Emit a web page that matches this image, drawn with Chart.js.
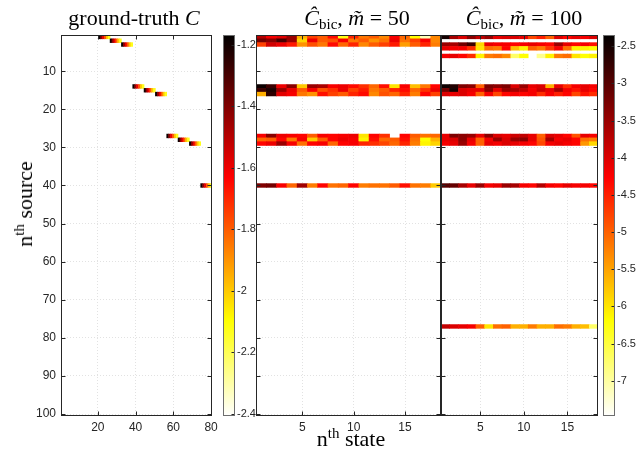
<!DOCTYPE html>
<html>
<head>
<meta charset="utf-8">
<script src="https://cdn.jsdelivr.net/npm/chart.js@4.4.1/dist/chart.umd.min.js"></script>
<style>
  html, body { margin: 0; padding: 0; background: #fff; }
  #fig { position: relative; width: 636px; height: 453px; overflow: hidden; background: #fff; }
  #fig canvas { position: absolute; top: 0; }
  .tx { position: absolute; font-family: "Liberation Serif", "Times New Roman", serif; color: #000;
        white-space: nowrap; line-height: 0; transform: translateX(-50%); }
  .tx i { font-style: italic; }
  .sup { font-size: 0.68em; position: relative; top: -0.55em; }
  .sub { font-size: 0.68em; position: relative; top: 0.3em; }
  #ylab { line-height: 22px; transform: translate(-50%, -50%) rotate(-90deg); }
</style>
</head>
<body>
<div id="fig">
  <canvas id="gt" width="224" height="453" style="left:0px"></canvas>
  <canvas id="bic50" width="205" height="453" style="left:246px"></canvas>
  <canvas id="bic100" width="177" height="453" style="left:431px"></canvas>
  <canvas id="cb1" width="50" height="453" style="left:213px"></canvas>
  <canvas id="cb3" width="43" height="453" style="left:593px"></canvas>

  <div class="tx" style="left:134px; top:18px; font-size:22px;">ground-truth <i>C</i></div>
  <div class="tx" style="left:357px; top:18px; font-size:22px;"><i>Ĉ</i><span class="sub">bic</span>, <i>m̃</i> = 50</div>
  <div class="tx" style="left:524px; top:18px; font-size:22px;"><i>Ĉ</i><span class="sub">bic</span>, <i>m̃</i> = 100</div>
  <div class="tx" style="left:351px; top:439px; font-size:22px;">n<span class="sup">th</span> state</div>
  <div class="tx" id="ylab" style="left:26px; top:204px; font-size:22px;">n<span class="sup">th</span> source</div>
</div>

<script>
// ---- data -------------------------------------------------------------
const N_SOURCES = 100;
const N_GT_STATES = 80;
const N_BIC_STATES = 18;

const SOURCE_TICKS = [10, 20, 30, 40, 50, 60, 70, 80, 90, 100];
const GT_STATE_TICKS = [20, 40, 60, 80];
const BIC_STATE_TICKS = [5, 10, 15];

// ground-truth coefficients: each active source owns six consecutive states
const GT_ROWS = [1, 2, 3, 14, 15, 16, 27, 28, 29, 40];
const GT_FIRST_STATE = [21, 27, 33, 39, 45, 51, 57, 63, 69, 75];
const GT_VALUES = [
  [-1.19, -1.43, -1.60, -1.80, -1.99, -2.13],
  [-1.19, -1.43, -1.60, -1.80, -1.99, -2.13],
  [-1.19, -1.43, -1.60, -1.80, -1.99, -2.13],
  [-1.19, -1.43, -1.60, -1.80, -1.99, -2.13],
  [-1.19, -1.43, -1.60, -1.80, -1.99, -2.13],
  [-1.19, -1.43, -1.60, -1.80, -1.99, -2.13],
  [-1.19, -1.43, -1.60, -1.80, -1.99, -2.13],
  [-1.19, -1.43, -1.60, -1.80, -1.99, -2.13],
  [-1.19, -1.43, -1.60, -1.80, -1.99, -2.13],
  [-1.19, -1.43, -1.60, -1.80, -1.99, -2.13]
];

// BIC estimate, m = 50 (null = not selected)
const BIC50_ROWS = [1, 2, 3, 14, 15, 16, 27, 28, 29, 40];
const BIC50_VALUES = [
  [-1.50, -1.62, -1.58, -1.45, -1.95, -1.75, -1.80, -1.65, -2.12, -1.70, -1.85, -1.80, -1.88, -1.62, -1.82, -2.10, -2.32, -1.88],
  [-1.38, -1.42, -1.30, -1.45, -2.02, -1.60, -1.80, -1.78, -1.62, -1.85, -1.80, -1.90, -1.84, -1.60, -1.84, -1.75, -1.62, -1.88],
  [-1.75, -1.55, -1.60, -1.68, -1.90, -1.78, -1.85, -1.65, -1.82, -1.70, -1.88, -1.80, -1.75, -1.68, -1.92, -1.80, -1.70, -1.86],
  [-1.19, -1.28, -1.60, -1.42, -2.00, -1.45, -1.48, -1.62, -1.60, -1.65, -1.72, -1.82, -1.66, -2.05, -1.62, -1.98, -1.85, -1.64],
  [-1.28, -1.22, -1.45, -1.60, -1.80, -1.62, -1.78, -1.72, -1.60, -1.75, -1.68, -1.85, -1.80, -1.70, -1.65, -1.82, -1.72, -1.60],
  [-1.95, -1.25, -1.58, -1.62, -1.85, -1.90, -1.66, -1.75, -1.80, -1.70, -1.65, -1.88, -1.78, -1.82, -1.70, -1.86, -1.64, -1.75],
  [-1.62, -1.42, -1.60, -1.62, -1.64, -1.80, -1.62, -1.64, -1.62, -1.60, -2.05, -1.64, -1.72, null, -1.64, -1.80, -1.84, -1.82],
  [-1.82, -1.80, -1.64, -1.85, -1.62, -2.00, -1.80, -1.64, -1.60, -1.62, -2.08, -1.66, -1.82, -1.80, -1.66, -1.84, -2.10, -1.96],
  [-1.64, -1.60, -1.45, -1.62, -1.84, -1.64, -1.62, -1.82, -1.64, -1.62, -1.70, -1.72, -1.76, -1.82, -1.70, -1.86, -2.08, -2.02],
  [-1.40, -1.38, -1.62, -1.82, -1.46, -1.86, -1.64, -1.84, -1.82, -1.64, -1.86, -1.84, -1.84, -1.80, -1.66, -1.84, -1.86, -2.00]
];

// BIC estimate, m = 100
const BIC100_ROWS = [1, 3, 4, 6, 14, 15, 16, 27, 28, 29, 40, 77];
const BIC100_VALUES = [
  [-2.50, -3.60, -4.00, -3.40, -3.80, -3.50, -4.10, -4.00, -4.00, -4.10, -4.80, -4.50, -5.00, -4.00, -4.30, -4.10, -4.20, -4.00],
  [-3.50, -3.60, -3.20, -2.80, -5.90, -4.10, -4.20, -4.20, -4.30, -4.20, -4.10, -4.20, -4.30, -3.50, -4.10, -4.30, -4.20, -4.40],
  [-4.10, -4.20, -4.20, -4.60, -6.00, -5.10, -5.20, -4.30, -5.70, -6.10, -5.00, -5.20, -4.70, -4.20, -5.10, -6.10, -6.10, -6.20],
  [-4.20, -4.10, -4.30, -4.60, -6.10, -5.20, -5.10, -5.30, -6.70, -6.20, null, -6.90, -6.10, -5.20, -5.10, -6.00, -6.20, -6.10],
  [-2.45, -2.60, -3.30, -3.40, -5.00, -3.30, -3.40, -3.30, -4.00, -3.50, -4.10, -4.00, -5.60, -4.10, -4.60, -4.20, -4.10, -4.20],
  [-3.20, -2.50, -4.00, -4.10, -4.10, -3.40, -4.10, -3.50, -3.60, -3.80, -4.20, -3.90, -4.10, -3.60, -4.20, -4.40, -4.10, -4.30],
  [-4.00, -4.10, -4.00, -4.20, -5.00, -4.20, -4.80, -4.30, -4.20, -4.30, -4.20, -4.60, -4.20, -4.50, -4.30, -4.80, -4.40, -4.60],
  [-4.10, -3.30, -3.40, -3.50, -4.10, -3.40, -4.00, -4.10, -3.90, -3.80, -4.10, -5.00, -4.00, -4.10, -4.30, -4.90, -4.10, -4.20],
  [-4.10, -4.00, -3.40, -4.10, -5.00, -4.20, -3.50, -4.00, -3.50, -3.40, -4.10, -4.90, -3.60, -4.20, -4.10, -4.30, -5.10, -5.20],
  [-4.20, -4.10, -3.50, -4.20, -5.00, -4.10, -4.20, -4.00, -4.10, -4.20, -4.30, -4.80, -4.20, -4.10, -4.20, -4.30, -5.40, -5.90],
  [-3.00, -3.10, -3.60, -4.10, -3.50, -4.20, -4.10, -3.50, -3.60, -4.20, -4.30, -3.70, -4.20, -4.30, -4.10, -4.20, -4.20, -4.30],
  [-3.80, -4.00, -4.10, -4.20, -5.00, -6.00, -5.10, -5.00, -5.60, -5.60, -5.20, -5.60, -5.60, -5.10, -5.20, -5.60, -5.70, -6.70]
];

// colour limits and colourbar ticks
const CB1_RANGE = [-2.408, -1.169];
const CB1_TICKS = [-1.2, -1.4, -1.6, -1.8, -2, -2.2, -2.4];
const CB3_RANGE = [-7.475, -2.348];
const CB3_TICKS = [-2.5, -3, -3.5, -4, -4.5, -5, -5.5, -6, -6.5, -7];

// ---- helpers ----------------------------------------------------------
const INK = '#262626';
const GRID = '#e2e2e2';
const TICK_FONT = { family: '"Liberation Sans", Arial, Helvetica, sans-serif', size: 12 };
const CB_FONT = { family: '"Liberation Sans", Arial, Helvetica, sans-serif', size: 11 };

// inverted "hot" map: high values black, low values white
function hotInv(v, lo, hi) {
  const s = Math.min(1, Math.max(0, (v - lo) / (hi - lo)));
  const u = 1 - s;
  const r = Math.min(1, u / 0.375);
  const g = Math.min(1, Math.max(0, (u - 0.375) / 0.375));
  const b = Math.min(1, Math.max(0, (u - 0.75) / 0.25));
  return `rgb(${Math.round(r * 255)},${Math.round(g * 255)},${Math.round(b * 255)})`;
}

function buildCells(rows, firstStates, values, range) {
  const cells = [], colors = [];
  rows.forEach((row, i) => {
    values[i].forEach((v, j) => {
      if (v === null) return;
      cells.push({ x: firstStates[i] + j, y: [row - 0.5, row + 0.5] });
      colors.push(hotInv(v, range[0], range[1]));
    });
  });
  return { cells, colors };
}

const framePlugin = {
  id: 'frame',
  afterDraw(chart, args, o) {
    const { ctx, chartArea: a } = chart;
    const L = Math.round(a.left) + 0.5, R = Math.round(a.right) - 0.5;
    const T = Math.round(a.top) + 0.5, B = Math.round(a.bottom) - 0.5;
    const tl = o.tickLength || 4;
    ctx.save();
    ctx.lineWidth = 1;
    ctx.strokeStyle = o.tickColor || INK;
    ctx.beginPath();
    const xs = chart.scales.x, ys = chart.scales.y;
    if (o.xTicks) {
      for (const t of xs.ticks) {
        const p = Math.round(xs.getPixelForValue(t.value)) + 0.5;
        ctx.moveTo(p, B); ctx.lineTo(p, B - tl);
        ctx.moveTo(p, T); ctx.lineTo(p, T + tl);
      }
    }
    for (const t of ys.ticks) {
      const p = Math.round(ys.getPixelForValue(t.value)) + 0.5;
      if (o.leftTicks) { ctx.moveTo(L, p); ctx.lineTo(L + tl, p); }
      if (o.rightTicks) { ctx.moveTo(R, p); ctx.lineTo(R - tl, p); }
    }
    ctx.stroke();
    ctx.strokeStyle = o.color || INK;
    ctx.strokeRect(L, T, R - L, B - T);
    ctx.restore();
  }
};

function heatmapChart(id, data, opt) {
  return new Chart(document.getElementById(id), {
    type: 'bar',
    data: {
      datasets: [{
        data: data.cells,
        backgroundColor: data.colors,
        borderWidth: 0,
        barPercentage: 1,
        categoryPercentage: 1,
        inflateAmount: 0.3,
        grouped: false
      }]
    },
    options: {
      responsive: false,
      animation: false,
      events: [],
      layout: { padding: opt.padding },
      plugins: {
        legend: { display: false },
        tooltip: { enabled: false },
        frame: { xTicks: true, leftTicks: true, rightTicks: true, tickLength: 4 }
      },
      scales: {
        x: {
          type: 'linear', min: 0.5, max: opt.nStates + 0.5, offset: false, z: 1,
          afterBuildTicks: (ax) => { ax.ticks = opt.xTicks.map(v => ({ value: v })); },
          afterFit: (ax) => { ax.height = 22; },
          grid: { color: GRID, lineWidth: 1, drawTicks: false, offset: false },
          border: { display: false, dash: [1, 2] },
          ticks: { autoSkip: false, maxRotation: 0, minRotation: 0, padding: 4,
                   color: INK, font: TICK_FONT, callback: v => String(v) }
        },
        y: {
          type: 'linear', reverse: true, min: 0.5, max: N_SOURCES + 0.5, offset: false, z: 1,
          afterBuildTicks: (ax) => { ax.ticks = SOURCE_TICKS.map(v => ({ value: v })); },
          afterFit: (ax) => { ax.width = opt.yWidth; },
          grid: { color: GRID, lineWidth: 1, drawTicks: false, offset: false },
          border: { display: false, dash: [1, 2] },
          ticks: { display: opt.yLabels, autoSkip: false, padding: 5,
                   color: INK, font: TICK_FONT, callback: v => String(v) }
        }
      }
    },
    plugins: [framePlugin]
  });
}

function colorbarChart(id, range, ticks, opt) {
  const [lo, hi] = range;
  return new Chart(document.getElementById(id), {
    type: 'bar',
    data: {
      labels: ['cb'],
      datasets: [{
        data: [[lo, hi]],
        borderWidth: 0,
        barPercentage: 1,
        categoryPercentage: 1,
        backgroundColor: (c) => {
          const chart = c.chart;
          const ys = chart.scales.y;
          if (!chart.chartArea || !ys) return '#000';
          const g = chart.ctx.createLinearGradient(0, ys.getPixelForValue(lo), 0, ys.getPixelForValue(hi));
          g.addColorStop(0, 'rgb(255,255,255)');
          g.addColorStop(0.25, 'rgb(255,255,0)');
          g.addColorStop(0.625, 'rgb(255,0,0)');
          g.addColorStop(1, 'rgb(0,0,0)');
          return g;
        }
      }]
    },
    options: {
      responsive: false,
      animation: false,
      events: [],
      layout: { padding: opt.padding },
      plugins: {
        legend: { display: false },
        tooltip: { enabled: false },
        frame: { xTicks: false, leftTicks: false, rightTicks: true, tickLength: 3, color: '#6e6e6e' }
      },
      scales: {
        x: { type: 'category', display: false, offset: true },
        y: {
          type: 'linear', position: 'right', min: lo, max: hi,
          afterBuildTicks: (ax) => { ax.ticks = ticks.map(v => ({ value: v })); },
          afterFit: (ax) => { ax.width = opt.axisWidth; },
          grid: { display: false, drawTicks: false },
          border: { display: false },
          ticks: { autoSkip: false, padding: 2, color: INK, font: CB_FONT, callback: v => String(v) }
        }
      }
    },
    plugins: [framePlugin]
  });
}

// ---- charts -----------------------------------------------------------
heatmapChart('gt', buildCells(GT_ROWS, GT_FIRST_STATE, GT_VALUES, CB1_RANGE), {
  nStates: N_GT_STATES, xTicks: GT_STATE_TICKS, yLabels: true, yWidth: 61,
  padding: { left: 0, right: 12, top: 35, bottom: 15 }
});

heatmapChart('bic50', buildCells(BIC50_ROWS, BIC50_ROWS.map(() => 1), BIC50_VALUES, CB1_RANGE), {
  nStates: N_BIC_STATES, xTicks: BIC_STATE_TICKS, yLabels: false, yWidth: 0,
  padding: { left: 10, right: 10, top: 35, bottom: 15 }
});

heatmapChart('bic100', buildCells(BIC100_ROWS, BIC100_ROWS.map(() => 1), BIC100_VALUES, CB3_RANGE), {
  nStates: N_BIC_STATES, xTicks: BIC_STATE_TICKS, yLabels: false, yWidth: 0,
  padding: { left: 10, right: 10, top: 35, bottom: 15 }
});

colorbarChart('cb1', CB1_RANGE, CB1_TICKS, { axisWidth: 28, padding: { left: 10, right: 0, top: 35, bottom: 37 } });
colorbarChart('cb3', CB3_RANGE, CB3_TICKS, { axisWidth: 21, padding: { left: 10, right: 0, top: 35, bottom: 37 } });
</script>
</body>
</html>
